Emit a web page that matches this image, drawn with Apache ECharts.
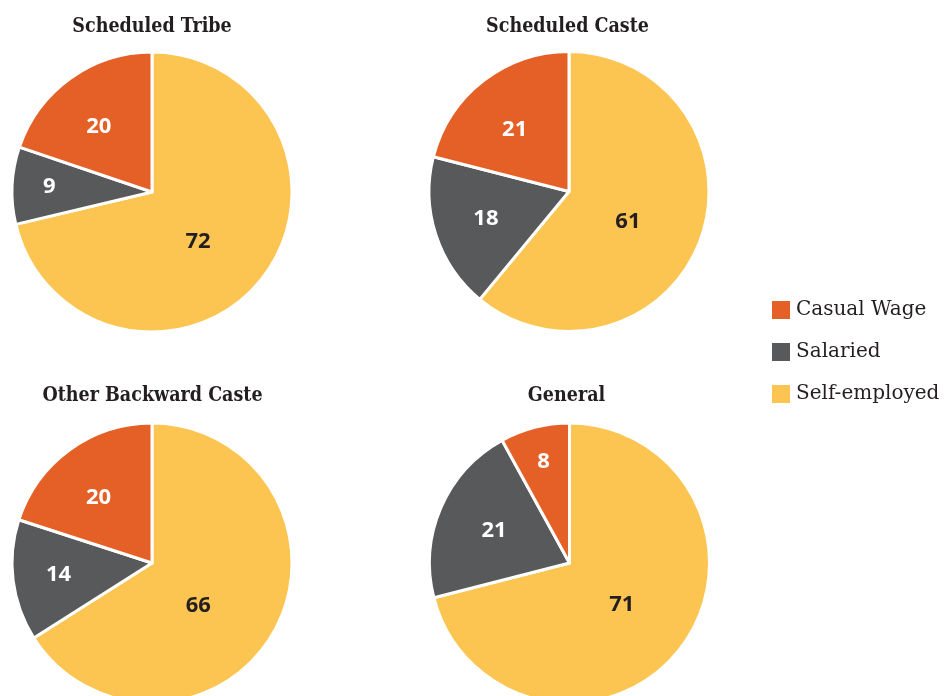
<!DOCTYPE html>
<html>
<head>
<meta charset="utf-8">
<script src="https://cdn.jsdelivr.net/npm/echarts@6/dist/echarts.min.js"></script>
<style>
html,body{margin:0;padding:0;background:#fff;}
#chart{width:951px;height:696px;}
</style>
</head>
<body>
<div id="chart"></div>
<script>
// ---- data ----
const categories = ['Self-employed', 'Salaried', 'Casual Wage'];
const groups = ['Scheduled Tribe', 'Scheduled Caste', 'Other Backward Caste', 'General'];
const scheduledTribe = [72, 9, 20];
const scheduledCaste = [61, 18, 21];
const otherBackwardCaste = [66, 14, 20];
const general = [71, 21, 8];
const legendOrder = ['Casual Wage', 'Salaried', 'Self-employed'];

// ---- style / layout ----
const colors = { 'Self-employed': '#FCC551', 'Salaried': '#58595B', 'Casual Wage': '#E56026' };
const labelColors = { 'Self-employed': '#231F20', 'Salaried': '#FFFFFF', 'Casual Wage': '#FFFFFF' };
const centers = [[152, 192], [569, 191.5], [152, 563], [569.5, 563]];
const titleCenters = [152, 567.5, 152.5, 566.5];
const titleTops = [12, 12, 381, 381];
const largeLabelNudge = [9, 7, 14, 1];    // degrees, label placement tweak for the big slice
const largeLabelRadius = [65, 63, 60, 64]; // px from centre for the big slice label
const R = 140;
const serif = "'DejaVu Serif Condensed', 'DejaVu Serif', 'Liberation Serif', serif";
const legendSerif = "'DejaVu Serif', 'Liberation Serif', serif";
const sans = "'Open Sans', 'Noto Sans', sans-serif";

const allValues = [scheduledTribe, scheduledCaste, otherBackwardCaste, general];

function labelPlacement(values, idx, pieIdx) {
  const total = values.reduce((a, b) => a + b, 0);
  const share = values[idx] / total;
  if (share > 0.5) return { d: largeLabelRadius[pieIdx], nudge: largeLabelNudge[pieIdx] };
  const isLast = idx === values.length - 1;
  return { d: 115 - 170 * share, nudge: (isLast && share >= 0.15) ? -3.5 : 0 };
}

const series = [];
allValues.forEach((vals, i) => {
  series.push({
    type: 'pie',
    center: centers[i],
    radius: [0, R],
    startAngle: 90,
    clockwise: true,
    silent: true,
    animation: false,
    label: { show: false },
    labelLine: { show: false },
    itemStyle: { borderColor: '#FFFFFF', borderWidth: 3 },
    data: vals.map((v, k) => ({
      name: categories[k], value: v,
      itemStyle: { color: colors[categories[k]] }
    }))
  });
});
allValues.forEach((vals, i) => {
  vals.forEach((_, j) => {
    const p = labelPlacement(vals, j, i);
    series.push({
      type: 'pie',
      center: centers[i],
      radius: [0, 2 * p.d],
      startAngle: 90 - p.nudge,
      clockwise: true,
      silent: true,
      animation: false,
      legendHoverLink: false,
      z: 5,
      labelLine: { show: false },
      itemStyle: { color: 'rgba(0,0,0,0)', borderWidth: 0 },
      label: { show: false },
      data: vals.map((v, k) => ({
        name: categories[k], value: v,
        label: {
          show: k === j, position: 'inside', formatter: '{c}',
          color: labelColors[categories[k]],
          fontFamily: sans, fontWeight: 'bold', fontSize: 22
        }
      }))
    });
  });
});

const titles = groups.map((g, i) => ({
  text: g,
  left: titleCenters[i] - 5,
  top: titleTops[i],
  textAlign: 'center',
  textStyle: { fontFamily: serif, fontWeight: 'bold', fontSize: 19.5, color: '#231F20' }
}));

const chart = echarts.init(document.getElementById('chart'), null, { renderer: 'canvas' });
chart.setOption({
  backgroundColor: '#FFFFFF',
  animation: false,
  title: titles,
  legend: {
    orient: 'vertical',
    left: 767,
    top: 295,
    icon: 'rect',
    itemWidth: 18,
    itemHeight: 18,
    itemGap: 22,
    selectedMode: false,
    itemStyle: { borderWidth: 0 },
    textStyle: { fontFamily: legendSerif, fontSize: 20, color: '#231F20', lineHeight: 20, padding: [0, 0, 0, 1] },
    data: legendOrder
  },
  series: series
});
</script>
</body>
</html>
